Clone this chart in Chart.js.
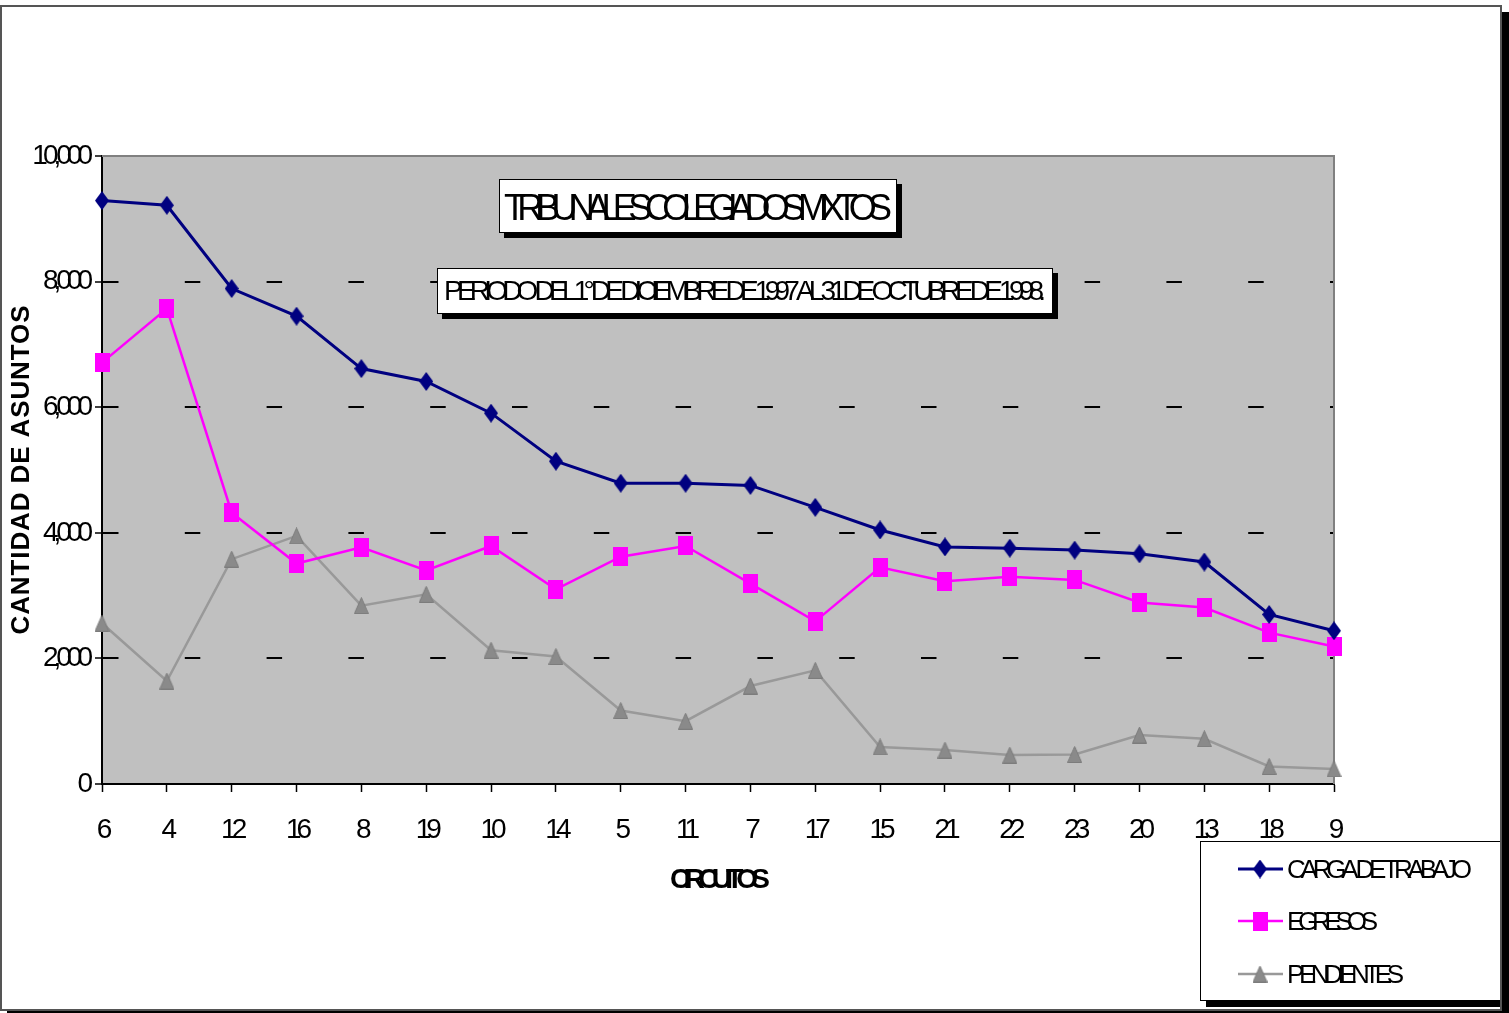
<!DOCTYPE html>
<html><head><meta charset="utf-8">
<script src="https://cdn.jsdelivr.net/npm/chart.js@4.4.1/dist/chart.umd.min.js"></script>
<style>html,body{margin:0;padding:0;background:#fff;overflow:hidden}#wrap{width:1509px;height:1013px;position:relative}canvas{display:block}</style>
</head><body><div id="wrap"><canvas id="c" width="1509" height="1013"></canvas></div>
<script>
const categories = ['6','4','12','16','8','19','10','14','5','11','7','17','15','21','22','23','20','13','18','9'];
const cargaDeTrabajo = [9290, 9215, 7890, 7450, 6615, 6410, 5905, 5140, 4790, 4790, 4755, 4405, 4045, 3775, 3755, 3725, 3665, 3535, 2700, 2440];
const egresos = [6710, 7570, 4320, 3510, 3770, 3400, 3790, 3100, 3620, 3790, 3190, 2590, 3450, 3230, 3300, 3250, 2890, 2810, 2410, 2190];
const pendientes = [2560, 1640, 3580, 3950, 2840, 3020, 2130, 2030, 1170, 1000, 1560, 1810, 590, 540, 460, 470, 780, 720, 280, 240];
const seriesLabels = ['CARGA DE TRABAJO', 'EGRESOS', 'PENDIENTES'];
const yTickLabels = ['0', '2,000', '4,000', '6,000', '8,000', '10,000'];
const titleText = 'TRIBUNALES COLEGIADOS MIXTOS';
const subtitleText = 'PERIODO DEL 1° DE DICIEMBRE DE 1997 AL 31 DE OCTUBRE DE 1998.';
const xTitleText = 'CIRCUITOS';
const yTitleText = 'CANTIDAD DE ASUNTOS';

const FONT = '"Liberation Sans", Arial, sans-serif';

function makeMarker(kind, w, h, fill, stroke) {
  const c = document.createElement('canvas');
  c.width = w; c.height = h;
  const g = c.getContext('2d');
  g.fillStyle = fill;
  g.beginPath();
  if (kind === 'diamond') { g.moveTo(w/2, 0); g.lineTo(w, h/2); g.lineTo(w/2, h); g.lineTo(0, h/2); }
  else if (kind === 'square') { g.rect(0, 0, w, h); }
  else { g.moveTo(w/2, 0.5); g.lineTo(w - 0.5, h - 0.5); g.lineTo(0.5, h - 0.5); }
  g.closePath();
  g.fill();
  if (stroke) { g.strokeStyle = stroke; g.lineWidth = 1; g.stroke(); }
  return c;
}
const diamond = makeMarker('diamond', 14, 19, '#000080');
const square = makeMarker('square', 15, 19, '#FF00FF');
const triangle = makeMarker('triangle', 15, 17, '#8a8a8a', '#7c7c7c');

function fitText(ctx, text, x, y, font, width, align) {
  ctx.font = font;
  ctx.letterSpacing = '0px';
  const nat = ctx.measureText(text).width;
  const ls = (width - nat) / Math.max(1, text.length - 1);
  ctx.letterSpacing = ls + 'px';
  ctx.textAlign = 'left';
  ctx.textBaseline = 'middle';
  const sx = align === 'center' ? x - width / 2 : x;
  ctx.fillText(text, sx, y);
  ctx.letterSpacing = '0px';
}

function shadowBox(ctx, x, y, w, h, off) {
  ctx.fillStyle = '#000';
  ctx.fillRect(x + off, y + off, w, h);
  ctx.fillStyle = '#fff';
  ctx.fillRect(x, y, w, h);
  ctx.strokeStyle = '#000';
  ctx.lineWidth = 1;
  ctx.strokeRect(x + 0.5, y + 0.5, w - 1, h - 1);
}

const decor = {
  id: 'decor',
  beforeDraw(chart) {
    const ctx = chart.ctx, a = chart.chartArea;
    ctx.save();
    ctx.fillStyle = '#fff';
    ctx.fillRect(0, 0, chart.width, chart.height);
    ctx.fillStyle = '#C0C0C0';
    ctx.fillRect(a.left, a.top, a.right - a.left, a.bottom - a.top);
    ctx.restore();
    ctx.letterSpacing = '-5px';
  },
  beforeDatasetsDraw(chart) {
    const ctx = chart.ctx, a = chart.chartArea;
    ctx.save();
    ctx.letterSpacing = '0px';
    ctx.strokeStyle = '#808080';
    ctx.lineWidth = 2;
    ctx.beginPath();
    ctx.moveTo(a.left, a.top);
    ctx.lineTo(a.right, a.top);
    ctx.lineTo(a.right, a.bottom);
    ctx.stroke();
    ctx.restore();
  },
  afterDraw(chart) {
    const ctx = chart.ctx, a = chart.chartArea;
    ctx.save();
    ctx.letterSpacing = '0px';
    // title boxes
    shadowBox(ctx, 499, 179, 398, 54, 5);
    ctx.fillStyle = '#000';
    fitText(ctx, titleText, 698, 210, '36px ' + FONT, 388, 'center');
    shadowBox(ctx, 437, 268, 616, 46, 5);
    ctx.fillStyle = '#000';
    fitText(ctx, subtitleText, 745, 292, '28px ' + FONT, 602, 'center');
    // axis titles
    ctx.fillStyle = '#000';
    fitText(ctx, xTitleText, (a.left + a.right) / 2 + 2, 880, 'bold 28px ' + FONT, 100, 'center');
    ctx.save();
    ctx.translate(22, (a.top + a.bottom) / 2);
    ctx.rotate(-Math.PI / 2);
    fitText(ctx, yTitleText, 0, 0, 'bold 26px ' + FONT, 329, 'center');
    ctx.restore();
    // legend
    shadowBox(ctx, 1200, 841, 301, 160, 6);
    const ys = [869, 921, 974];
    const widths = [185, 91, 117];
    chart.data.datasets.forEach((ds, i) => {
      ctx.strokeStyle = ds.borderColor;
      ctx.lineWidth = ds.borderWidth;
      ctx.beginPath();
      ctx.moveTo(1238, ys[i]);
      ctx.lineTo(1283, ys[i]);
      ctx.stroke();
      const m = ds.pointStyle;
      ctx.drawImage(m, 1260 - m.width / 2, ys[i] - m.height / 2);
      ctx.fillStyle = '#000';
      fitText(ctx, ds.label, 1287, ys[i] + 2, '26px ' + FONT, widths[i], 'left');
    });
    // outer frame
    ctx.fillStyle = '#000';
    ctx.fillRect(1502, 12, 7, 1001);
    ctx.fillRect(7, 1010, 1502, 3);
    ctx.strokeStyle = '#555';
    ctx.lineWidth = 2;
    ctx.strokeRect(1, 6, 1500, 1004);
    ctx.restore();
  }
};

new Chart(document.getElementById('c'), {
  type: 'line',
  data: {
    labels: categories,
    datasets: [
      { label: seriesLabels[0], data: cargaDeTrabajo, borderColor: '#000080', borderWidth: 3, pointStyle: diamond, pointRadius: 9, tension: 0, fill: false, clip: false },
      { label: seriesLabels[1], data: egresos, borderColor: '#FF00FF', borderWidth: 2.5, pointStyle: square, pointRadius: 9, tension: 0, fill: false, clip: false },
      { label: seriesLabels[2], data: pendientes, borderColor: '#999999', borderWidth: 2.5, pointStyle: triangle, pointRadius: 9, tension: 0, fill: false, clip: false }
    ]
  },
  options: {
    responsive: false,
    animation: false,
    devicePixelRatio: 1,
    layout: { autoPadding: false, padding: { top: 156, right: 175, left: 12, bottom: 159 } },
    plugins: { legend: { display: false }, title: { display: false }, tooltip: { enabled: false } },
    scales: {
      x: {
        type: 'category',
        offset: false,
        grid: { display: true, drawOnChartArea: false, drawTicks: true, tickLength: 8, tickColor: '#000', tickWidth: 1.5, offset: false },
        border: { display: true, color: '#000', width: 2 },
        ticks: { color: '#000', font: { family: FONT, size: 28 }, padding: 21, maxRotation: 0, minRotation: 0, autoSkip: false },
        afterFit(s) { s.height = 70; }
      },
      y: {
        min: 0, max: 10000,
        ticks: { stepSize: 2000, color: '#000', font: { family: FONT, size: 28 }, padding: 7,
                 callback: (v, i) => yTickLabels[i] },
        grid: { color: (c) => (c.tick && (c.tick.value === 0 || c.tick.value === 10000)) ? 'rgba(0,0,0,0)' : '#000',
                lineWidth: 2, drawTicks: true, tickLength: 7, tickColor: '#000', tickWidth: 1.5 },
        border: { display: true, color: '#000', width: 2, dash: [15.5, 66.3], dashOffset: 0 },
        afterFit(s) { s.width = 90; }
      }
    }
  },
  plugins: [decor]
});
</script>
</body></html>
